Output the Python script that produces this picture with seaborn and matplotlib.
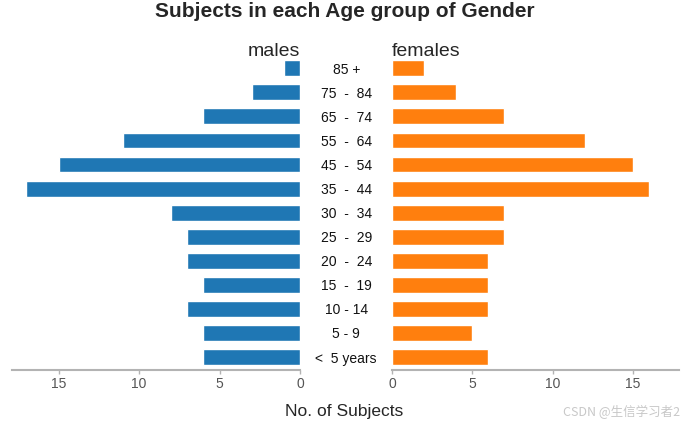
import pandas as pd
import matplotlib.pyplot as plt
import seaborn as sns

# Age pyramid data, top row first
age_groups = ['85 +', '75  -  84', '65  -  74', '55  -  64', '45  -  54', '35  -  44',
              '30  -  34', '25  -  29', '20  -  24', '15  -  19', '10 - 14', '5 - 9', '<  5 years']
males = [1, 3, 6, 11, 15, 17, 8, 7, 7, 6, 7, 6, 6]
females = [2, 4, 7, 12, 15, 16, 7, 7, 6, 6, 6, 5, 6]

df = pd.DataFrame({'Age': age_groups, 'males': males, 'females': females})
df['Age'] = pd.Categorical(df['Age'], categories=age_groups, ordered=True)

sns.set_style('white')
plt.rcParams['font.family'] = ['Liberation Sans', 'DejaVu Sans']

fig = plt.figure(figsize=(6.89, 4.28), dpi=100)
ax1 = fig.add_axes([0.0174, 0.1355, 0.418, 0.733])
ax2 = fig.add_axes([0.569, 0.1355, 0.417, 0.733])

sns.barplot(data=df, x='males', y='Age', ax=ax1, color='#1f77b4',
            saturation=1, width=0.66, order=age_groups)
sns.barplot(data=df, x='females', y='Age', ax=ax2, color='#ff7f0e',
            saturation=1, width=0.66, order=age_groups)

xmax = 17.9
ax1.set_xlim(xmax, 0)
ax2.set_xlim(0, xmax)

for ax in (ax1, ax2):
    ax.set_ylim(12.54, -0.5)
    ax.set_xlabel('')
    ax.set_ylabel('')
    ax.set_xticks([0, 5, 10, 15])
    for s in ['top', 'left', 'right']:
        ax.spines[s].set_visible(False)
    ax.spines['bottom'].set_color('#b3b3b3')
    ax.spines['bottom'].set_linewidth(1.5)
    ax.tick_params(axis='x', colors='#b3b3b3', labelcolor='#555555',
                   labelsize=10, length=3, width=1, pad=2, bottom=True)

ax1.set_yticks([])
ax2.tick_params(axis='y', length=0, pad=33, labelsize=10, labelcolor='#111111')
for lab in ax2.get_yticklabels():
    lab.set_horizontalalignment('center')

ax1.set_title('males', loc='right', fontsize=14, pad=0)
ax2.set_title('females', loc='left', fontsize=14, pad=0)

fig.text(0.5, 0.972, 'Subjects in each Age group of Gender', ha='center',
         va='center', fontsize=15, fontweight='bold')
fig.text(0.5, 0.038, 'No. of Subjects', ha='center', va='center', fontsize=12.5)
fig.text(0.987, 0.038, 'CSDN @生信学习者2', ha='right', va='center', fontsize=9,
         color='#c8c8c8', family=['Noto Sans CJK SC', 'DejaVu Sans'])

fig.savefig('out.png', dpi=100)
